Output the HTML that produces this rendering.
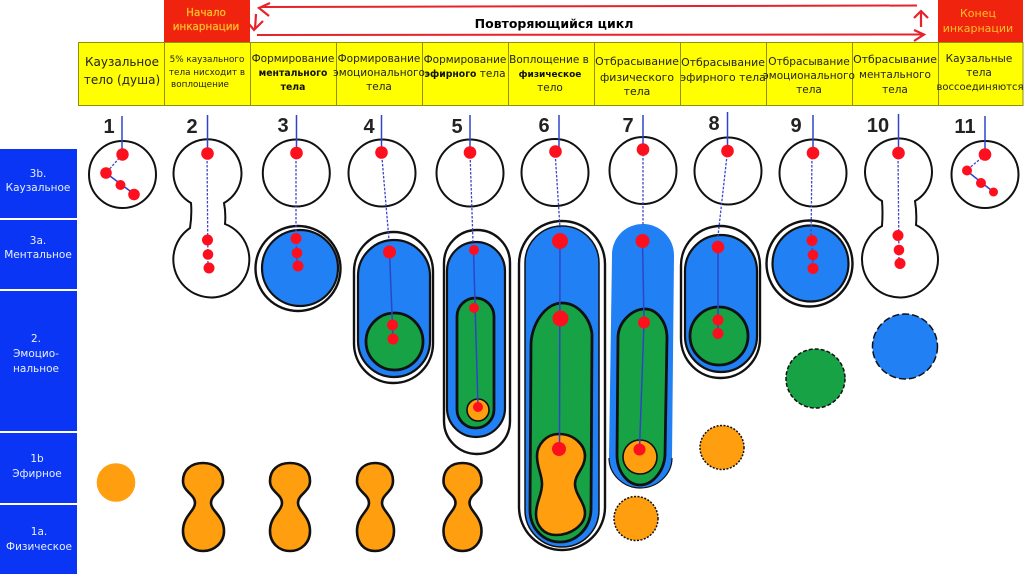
<!DOCTYPE html>
<html lang="ru"><head><meta charset="utf-8"><title>Повторяющийся цикл</title>
<style>
html,body{margin:0;padding:0;background:#fff;width:1024px;height:574px;overflow:hidden}
svg{display:block}
text{font-family:"DejaVu Sans","Liberation Sans",sans-serif;text-anchor:middle}
.h{font-size:10.5px;fill:#222}
.t{font-size:10.9px;fill:#222}
.hb{font-size:9.3px;fill:#111;font-weight:bold}
.s{font-size:10.5px;fill:#e8f0ff}
.n{font-family:"Liberation Sans",sans-serif;font-size:20px;font-weight:bold;fill:#222}
.c{fill:#fff;stroke:#111;stroke-width:2}
.r{fill:#fe0f1e}
.l{stroke:#2f45c8;stroke-width:1.5;fill:none}
.d{stroke:#3b48c8;stroke-width:1.3;stroke-dasharray:2.5 1.5;fill:none}
.o{fill:#fff;stroke:#111;stroke-width:2.4}
.b{fill:#2080f4;stroke:#111;stroke-width:2.2}
.g{fill:#17a345;stroke:#111;stroke-width:2.8}
.y{fill:#ff9f10;stroke:#111;stroke-width:2.6}
</style></head><body>
<svg width="1024" height="574" viewBox="0 0 1024 574" xmlns="http://www.w3.org/2000/svg">
<rect width="1024" height="574" fill="#fff"/>

<!-- top red -->
<rect x="164" y="0" width="86" height="42" fill="#f0240e"/>
<rect x="938" y="0" width="85" height="42" fill="#f0240e"/>
<text x="206" y="16" fill="#fdc02a" stroke="#fdc02a" stroke-width="0.25" style="font-size:10.4px">Начало</text>
<text x="206" y="30" fill="#fdc02a" stroke="#fdc02a" stroke-width="0.25" style="font-size:10.4px">инкарнации</text>
<text x="978" y="17" fill="#fdc02a" style="font-size:11px">Конец</text>
<text x="978" y="32" fill="#fdc02a" style="font-size:11px">инкарнации</text>
<text x="554" y="28" fill="#000" style="font-size:12.5px;font-weight:bold">Повторяющийся цикл</text>

<!-- arrows -->
<g stroke="#e8222a" stroke-width="2" fill="none">
<path d="M261,7 L917,5.500"/>
<path d="M257,35 L923,34.500"/>
<path d="M270,3 L259,8 L269,16" stroke-width="2.2"/>
<path d="M256,14 L255,29 M249,24 L254,30 L263,21" stroke-width="2.2"/>
<path d="M921,27 L921,12 M914,18 L921,11 L928,18" stroke-width="2.2"/>
<path d="M914,30 L924,34.500 L914,41" stroke-width="2.2"/>
</g>

<!-- yellow header -->
<rect x="78" y="42" width="945" height="64" fill="#ffff00"/>
<g stroke="#8f8f10" stroke-width="1" fill="none">
<path d="M78.500,42.500H1023M78.500,105.500H1023M78.500,42V106M164.500,42V106M250.500,42V106M336.500,42V106M422.500,42V106M508.500,42V106M594.500,42V106M680.500,42V106M766.500,42V106M852.500,42V106M938.500,42V106M1023,42V106"/>
</g>
<text x="122" y="66" fill="#222" style="font-size:12px">Каузальное</text>
<text x="122" y="84" fill="#222" style="font-size:12px">тело (душа)</text>
<text x="207" y="62" fill="#222" style="font-size:8.8px">5% каузального</text>
<text x="207" y="75" fill="#222" style="font-size:8.8px">тела нисходит в</text>
<text x="200" y="87" fill="#222" style="font-size:8.8px">воплощение</text>
<text x="293" y="62" class="h">Формирование</text>
<text x="293" y="76" class="hb">ментального</text>
<text x="293" y="90" class="hb">тела</text>
<text x="379" y="62" class="h">Формирование</text>
<text x="379" y="76" class="h">эмоционального</text>
<text x="379" y="90" class="h">тела</text>
<text x="465" y="63" class="h">Формирование</text>
<text x="465" y="77"><tspan class="hb">эфирного</tspan><tspan class="h"> тела</tspan></text>
<text x="549" y="63" class="h">Воплощение в</text>
<text x="550" y="77" class="hb" style="font-size:9px">физическое</text>
<text x="550" y="91" class="h">тело</text>
<text x="637" y="65" class="t">Отбрасывание</text>
<text x="637" y="81" class="t">физического</text>
<text x="637" y="95" class="t">тела</text>
<text x="723" y="66" class="t">Отбрасывание</text>
<text x="723" y="81" class="t">эфирного тела</text>
<text x="809" y="65" class="t" style="font-size:10.6px">Отбрасывание</text>
<text x="809" y="79" class="h">эмоционального</text>
<text x="809" y="93" class="h">тела</text>
<text x="895" y="63" class="t">Отбрасывание</text>
<text x="895" y="78" class="h">ментального</text>
<text x="895" y="93" class="h">тела</text>
<text x="979" y="62" class="h">Каузальные</text>
<text x="979" y="76" class="h">тела</text>
<text x="980" y="90" class="h" style="font-size:10px">воссоединяются</text>

<!-- sidebar -->
<g fill="#0a35f4">
<rect x="0" y="149" width="77" height="69"/>
<rect x="0" y="220" width="77" height="69"/>
<rect x="0" y="291" width="77" height="140"/>
<rect x="0" y="433" width="77" height="70"/>
<rect x="0" y="505" width="77" height="69"/>
</g>
<text x="38" y="177" class="s">3b.</text><text x="38" y="191" class="s">Каузальное</text>
<text x="38" y="244" class="s">3а.</text><text x="38" y="258" class="s">Ментальное</text>
<text x="36" y="342" class="s">2.</text><text x="36" y="357" class="s">Эмоцио-</text><text x="36" y="372" class="s">нальное</text>
<text x="37" y="462" class="s">1b</text><text x="37" y="477" class="s">Эфирное</text>
<text x="39" y="535" class="s">1а.</text><text x="39" y="550" class="s">Физическое</text>

<!-- numbers -->
<text x="109" y="133" class="n">1</text>
<text x="192" y="133" class="n">2</text>
<text x="283" y="132" class="n">3</text>
<text x="369" y="133" class="n">4</text>
<text x="457" y="133" class="n">5</text>
<text x="544" y="132" class="n">6</text>
<text x="628" y="132" class="n">7</text>
<text x="714" y="130" class="n">8</text>
<text x="796" y="132" class="n">9</text>
<text x="878" y="132" class="n">10</text>
<text x="965" y="133" class="n">11</text>

<!-- 1 -->
<circle cx="122.500" cy="174.500" r="33.500" class="c"/>
<path class="l" d="M122,116V154"/><path class="d" d="M122,155L106,173"/><path class="l" d="M106,173L134,194" stroke-width="2"/>
<circle cx="122.500" cy="154.500" r="6.200" class="r"/><circle cx="106" cy="173" r="5.800" class="r"/><circle cx="120.500" cy="185" r="5" class="r"/><circle cx="134" cy="194.500" r="5.800" class="r"/>

<!-- 2 -->
<path class="c" d="M191,203A34,34 0 1 1 224,203Q226,213 225,224A38,38 0 1 1 190,228Q192,215 191,203Z"/>
<path class="l" d="M207.500,115V153"/><path class="d" d="M207,153L208,268"/>
<circle cx="207.500" cy="153.500" r="6.300" class="r"/><circle cx="207.500" cy="240" r="5.500" class="r"/><circle cx="208" cy="254.500" r="5.300" class="r"/><circle cx="209" cy="268" r="5.500" class="r"/>

<!-- 3 -->
<circle cx="296.300" cy="173" r="33.500" class="c"/>
<circle cx="298" cy="268.500" r="42.500" class="o"/>
<circle cx="300" cy="268" r="38" class="b"/>
<path class="l" d="M296.500,115V153"/><path class="d" d="M296,153V238"/><path class="d" d="M296,238L297,266"/>
<circle cx="296.500" cy="153" r="6.300" class="r"/><circle cx="296" cy="238.500" r="5.500" class="r"/><circle cx="297" cy="253" r="5.300" class="r"/><circle cx="298" cy="266" r="5.500" class="r"/>

<!-- 4 -->
<circle cx="382" cy="173" r="33.500" class="c"/>
<rect x="354" y="232" width="79" height="151" rx="39.500" class="o"/>
<rect x="358" y="240" width="72" height="137" rx="36" class="b"/>
<circle cx="394.500" cy="341.500" r="28.500" class="g"/>
<path class="l" d="M381.500,115V152"/><path class="d" d="M381.500,152L389,240"/><path class="l" d="M389.500,252L393,339"/>
<circle cx="381.500" cy="152.500" r="6.300" class="r"/><circle cx="389.500" cy="252" r="6.500" class="r"/><circle cx="392.500" cy="325" r="5.500" class="r"/><circle cx="393" cy="339" r="5.500" class="r"/>

<!-- 5 -->
<circle cx="470" cy="173" r="33.500" class="c"/>
<rect x="444" y="230" width="66" height="224" rx="33" class="o"/>
<rect x="447" y="242" width="58" height="195" rx="29" class="b"/>
<rect x="457" y="298" width="37" height="130" rx="18.500" class="g"/>
<circle cx="478" cy="410" r="11" class="y" style="stroke-width:1.6"/>
<path class="l" d="M470,115V152"/><path class="d" d="M470,152L473,242"/><path class="l" d="M473.500,250L478,407"/>
<circle cx="470" cy="152.500" r="6.300" class="r"/><circle cx="474" cy="250" r="5" class="r"/><circle cx="474" cy="308" r="5" class="r"/><circle cx="478" cy="407" r="5" class="r"/>

<!-- 6 -->
<circle cx="555" cy="172.500" r="33.500" class="c"/>
<rect x="519" y="221" width="86" height="329" rx="43" class="o"/>
<rect x="525" y="226" width="74" height="321" rx="37" class="b" style="stroke-width:1.5"/>
<path class="g" d="M562,303C578,303 590,318 592,334L591,510C590,530 575,542 560,542C545,542 530,530 530,510L531,345C531,325 545,303 562,303Z"/>
<path class="y" d="M559,434C574,434 585,445 585,456C585,468 575,474 575,484C575,494 585,503 585,513C585,525 571,535 556,535C544,535 536,526 536,514C536,502 542,495 542,484C542,474 537,468 537,456C537,445 546,434 559,434Z"/>
<path class="l" d="M559,115V151"/><path class="d" d="M555,151L560,228"/><path class="l" d="M560,241L559.500,449"/>
<circle cx="555.500" cy="151.500" r="6.300" class="r"/><circle cx="560" cy="241" r="8" class="r"/><circle cx="560.500" cy="318.500" r="8" class="r"/><circle cx="559" cy="449" r="7" class="r"/>

<!-- 7 -->
<circle cx="643" cy="170.500" r="33.500" class="c"/>
<path d="M612,255C612,238 625,224 643,224C660,224 674,238 674,255L672,458C672,474 658,488 640,488C623,488 609,474 609,458Z" fill="#2080f4"/>
<path d="M609,458C609,474 623,488 640,488C658,488 672,474 672,458" fill="none" stroke="#111" stroke-width="1.2"/>
<path class="g" d="M645,309C657,309 667,322 667,338L665,455C664,472 652,485 640,485C628,485 617,472 617,455L618,338C618,322 632,309 645,309Z"/>
<circle cx="640" cy="457" r="17" class="y" style="stroke-width:1.6"/>
<path class="l" d="M643,115V149"/><path class="d" d="M643,150L643,226"/><path class="l" d="M642.500,241L644,322L639.500,449"/>
<circle cx="643" cy="149.500" r="6.300" class="r"/><circle cx="642.500" cy="241" r="7" class="r"/><circle cx="644" cy="322.500" r="6" class="r"/><circle cx="639.500" cy="449.500" r="6" class="r"/>
<circle cx="636" cy="518.500" r="22" fill="#ff9f10" stroke="#111" stroke-width="1.5" stroke-dasharray="2 1.500"/>

<!-- 8 -->
<circle cx="728" cy="171" r="33.500" class="c"/>
<rect x="681" y="226" width="79" height="152" rx="39.500" class="o"/>
<rect x="685" y="235" width="72" height="137" rx="36" class="b"/>
<circle cx="719" cy="336" r="29" class="g"/>
<path class="l" d="M727.500,112V151"/><path class="d" d="M727.500,151L718,236"/><path class="l" d="M718,247V333"/>
<circle cx="727.500" cy="151" r="6.300" class="r"/><circle cx="718" cy="247" r="6.300" class="r"/><circle cx="718" cy="320" r="5.500" class="r"/><circle cx="718" cy="333.500" r="5.500" class="r"/>
<circle cx="722" cy="447.500" r="22" fill="#ff9f10" stroke="#111" stroke-width="1.5" stroke-dasharray="2 1.500"/>

<!-- 9 -->
<circle cx="813" cy="173" r="33.500" class="c"/>
<circle cx="809.500" cy="263.500" r="43" class="o"/>
<circle cx="810.500" cy="263.500" r="38" class="b"/>
<path class="l" d="M813,115V153"/><path class="d" d="M812,153L811,240"/><path class="d" d="M812,240L813,268"/>
<circle cx="813" cy="153" r="6.300" class="r"/><circle cx="812" cy="240.500" r="5.500" class="r"/><circle cx="813" cy="255" r="5.300" class="r"/><circle cx="813" cy="268.500" r="5.500" class="r"/>
<circle cx="815.500" cy="378.500" r="29.500" fill="#17a345" stroke="#111" stroke-width="1.5" stroke-dasharray="4 2"/>

<!-- 10 -->
<path class="c" d="M882,201A33.500,33.500 0 1 1 915,201Q917,213 916,225A38,38 0 1 1 882,226Q883,213 882,201Z"/>
<path class="l" d="M898.500,114V153"/><path class="d" d="M898,153L899,263"/>
<circle cx="898.500" cy="153" r="6.300" class="r"/><circle cx="898" cy="235.500" r="5.500" class="r"/><circle cx="899" cy="250" r="5.300" class="r"/><circle cx="900" cy="263.500" r="5.500" class="r"/>
<circle cx="905" cy="346.500" r="32.500" fill="#2080f4" stroke="#111" stroke-width="1.5" stroke-dasharray="7 3"/>

<!-- 11 -->
<circle cx="985" cy="174.500" r="33.500" class="c"/>
<path class="l" d="M985,116V154"/><path class="d" d="M985,155L967,170"/><path class="l" d="M967,171L993.500,192"/>
<circle cx="985" cy="154.500" r="6.300" class="r"/><circle cx="967" cy="170.500" r="5" class="r"/><circle cx="981" cy="183" r="5" class="r"/><circle cx="993.500" cy="192" r="4.500" class="r"/>

<!-- orange -->
<circle cx="116" cy="482.500" r="19.300" fill="#ff9f10"/>
<path class="y" transform="translate(203,0)" d="M0,463C12,463 20,470 20,481C20,492 8,494 8,503C8,511 21,516 21,531C21,543 11,551 0,551C-11,551 -20,543 -20,531C-20,516 -8,511 -8,503C-8,494 -20,492 -20,481C-20,470 -12,463 0,463Z"/>
<path class="y" transform="translate(290,0)" d="M0,463C12,463 20,470 20,481C20,492 8,494 8,503C8,511 20,516 20,531C20,543 11,551 0,551C-11,551 -20,543 -20,531C-20,516 -8,511 -8,503C-8,494 -20,492 -20,481C-20,470 -12,463 0,463Z"/>
<path class="y" transform="translate(375,0)" d="M0,463C11,463 18,470 18,481C18,492 7,494 7,503C7,511 19,516 19,531C19,543 11,551 0,551C-11,551 -18,543 -18,531C-18,516 -6,511 -6,503C-6,494 -18,492 -18,481C-18,470 -11,463 0,463Z"/>
<path class="y" transform="translate(462.500,0)" d="M0,463C12,463 19,470 19,481C19,492 7,494 7,503C7,511 19,516 19,531C19,543 11,551 0,551C-11,551 -19,543 -19,531C-19,516 -7,511 -7,503C-7,494 -19,492 -19,481C-19,470 -12,463 0,463Z"/>
</svg>
</body></html>
